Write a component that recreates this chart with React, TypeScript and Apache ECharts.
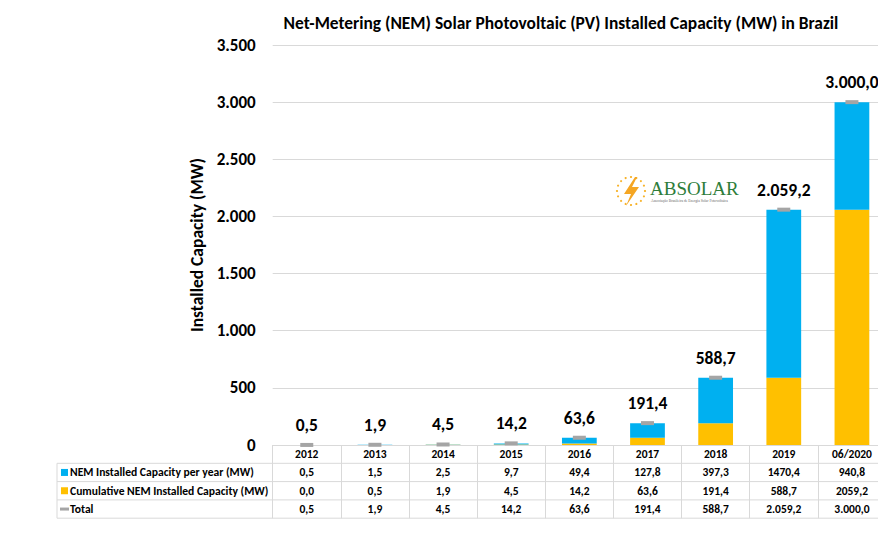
import React, { useEffect, useRef } from "react";
import * as echarts from "echarts";

const categories = ["2012", "2013", "2014", "2015", "2016", "2017", "2018", "2019", "06/2020"];
const perYear = [0.5, 1.5, 2.5, 9.7, 49.4, 127.8, 397.3, 1470.4, 940.8];
const cumulative = [0.0, 0.5, 1.9, 4.5, 14.2, 63.6, 191.4, 588.7, 2059.2];
const totals = [0.5, 1.9, 4.5, 14.2, 63.6, 191.4, 588.7, 2059.2, 3000.0];
const yTicks = [0, 500, 1000, 1500, 2000, 2500, 3000, 3500];
const rowNames = [
  "NEM Installed Capacity per year (MW)",
  "Cumulative NEM Installed Capacity (MW)",
  "Total",
];

const FONT = "Carlito, 'Liberation Sans Narrow', 'Open Sans', sans-serif";
const BLUE = "#00b0f0";
const YELLOW = "#ffc000";
const GREY = "#a5a5a5";
const LINE = "#d9d9d9";

const fmtPlain = (v: number) => v.toFixed(1).replace(".", ",");
const fmtGroup = (v: number) => {
  const [i, d] = v.toFixed(1).split(".");
  return i.replace(/\B(?=(\d{3})+(?!\d))/g, ".") + "," + d;
};
const fmtInt = (v: number) => String(Math.round(v)).replace(/\B(?=(\d{3})+(?!\d))/g, ".");

const GRID_L = 272.7;
const GRID_T = 45;
const GRID_B = 445;
const ROW_H = 18.3;

export default function App() {
  const ref = useRef<HTMLDivElement>(null);
  useEffect(() => {
    if (!ref.current) return;
    const chart = echarts.init(ref.current, undefined, { renderer: "svg" });
    const rowStyle = { fontFamily: FONT, fontWeight: "bold" as const, fontSize: 11.5, color: "#000", lineHeight: ROW_H, height: ROW_H };
    const tableLines: any[] = [];
    [0, 1, 2, 3].forEach((k) => {
      const y = GRID_B + ROW_H * (k + 1);
      tableLines.push({ type: "line", shape: { x1: 57, y1: y, x2: 886, y2: y }, style: { stroke: LINE, lineWidth: 1 }, silent: true });
    });
    tableLines.push({ type: "line", shape: { x1: 57, y1: GRID_B + ROW_H, x2: 57, y2: GRID_B + ROW_H * 4 }, style: { stroke: LINE, lineWidth: 1 } });
    const legendColors = [BLUE, YELLOW, GREY];
    const rowTexts: any[] = [];
    rowNames.forEach((name, k) => {
      const cy = GRID_B + ROW_H * (k + 1.5);
      if (k < 2) {
        rowTexts.push({ type: "rect", shape: { x: 61, y: cy - 3.5, width: 7, height: 7 }, style: { fill: legendColors[k] } });
      } else {
        rowTexts.push({ type: "rect", shape: { x: 60, y: cy - 1.5, width: 9, height: 3 }, style: { fill: legendColors[k] } });
      }
      rowTexts.push({
        type: "text",
        x: 70,
        y: cy,
        style: { text: name, font: `bold 11.6px ${FONT}`, fill: "#000", textVerticalAlign: "middle" },
      });
    });
    // logo
    const logo: any[] = [];
    const cx = 631, cyL = 191, r = 14;
    for (let i = 0; i < 16; i++) {
      const a = (i / 16) * Math.PI * 2;
      logo.push({ type: "circle", shape: { cx: cx + r * Math.cos(a), cy: cyL + r * Math.sin(a), r: 1.1 }, style: { fill: "#f7b32b" } });
    }
    logo.push({
      type: "polygon",
      shape: { points: [[635, 177], [624, 194], [631, 194], [626, 206], [639, 187], [632, 187], [637, 177]] },
      style: { fill: "#f5a623" },
    });
    logo.push({ type: "text", x: 650, y: 188, style: { text: "ABSOLAR", font: "19px 'Liberation Serif', serif", fill: "#2e7d3a", textVerticalAlign: "middle" } });
    logo.push({ type: "text", x: 651, y: 201, style: { text: "Associação Brasileira de Energia Solar Fotovoltaica", font: "3.7px 'Liberation Serif', serif", fill: "#666", textVerticalAlign: "middle" } });

    chart.setOption({
      animation: false,
      backgroundColor: "#fff",
      title: {
        text: "Net-Metering (NEM) Solar Photovoltaic (PV) Installed Capacity (MW) in Brazil",
        left: 556,
        top: 9,
        textAlign: "center",
        textStyle: { fontFamily: FONT, fontWeight: "bold", fontSize: 17.4, color: "#000" },
      },
      grid: { left: GRID_L, right: 0, top: GRID_T, bottom: 553 - GRID_B, containLabel: false },
      xAxis: {
        type: "category",
        data: categories,
        axisLine: { show: true, lineStyle: { color: LINE, width: 1 } },
        axisTick: { show: true, length: ROW_H * 4, lineStyle: { color: LINE }, alignWithLabel: false },
        axisLabel: {
          margin: 0,
          interval: 0,
          formatter: (val: string, idx: number) =>
            `{h|${val}}\n{v|${fmtPlain(perYear[idx])}}\n{v|${fmtPlain(cumulative[idx])}}\n{v|${fmtGroup(totals[idx])}}`,
          rich: { h: rowStyle, v: rowStyle },
          verticalAlign: "top",
        },
      },
      yAxis: {
        type: "value",
        min: 0,
        max: 3500,
        interval: 500,
        name: "Installed Capacity (MW)",
        nameLocation: "middle",
        nameGap: 66,
        nameTextStyle: { fontFamily: FONT, fontWeight: "bold", fontSize: 17.5, color: "#000" },
        axisLine: { show: false },
        axisTick: { show: false },
        splitLine: { lineStyle: { color: LINE, width: 1 } },
        axisLabel: {
          margin: 17,
          formatter: (v: number) => (yTicks.includes(v) ? fmtInt(v) : ""),
          fontFamily: FONT,
          fontWeight: "bold",
          fontSize: 17,
          color: "#000",
        },
      },
      series: [
        {
          name: "Cumulative NEM Installed Capacity (MW)",
          type: "bar",
          stack: "t",
          data: cumulative,
          barWidth: "51%",
          itemStyle: { color: YELLOW },
        },
        {
          name: "NEM Installed Capacity per year (MW)",
          type: "bar",
          stack: "t",
          data: perYear,
          itemStyle: { color: BLUE },
        },
        {
          name: "Total",
          type: "scatter",
          data: totals,
          symbol: "rect",
          symbolSize: [13, 4],
          itemStyle: { color: GREY, opacity: 1 },
          z: 5,
          label: {
            show: true,
            position: "top",
            distance: 9,
            formatter: (p: any) => fmtGroup(p.value),
            fontFamily: FONT,
            fontWeight: "bold",
            fontSize: 17.5,
            color: "#000",
          },
        },
      ],
      graphic: [...tableLines, ...rowTexts, ...logo],
    });
    return () => chart.dispose();
  }, []);
  return <div ref={ref} style={{ width: 886, height: 553, margin: -8 }} />;
}
